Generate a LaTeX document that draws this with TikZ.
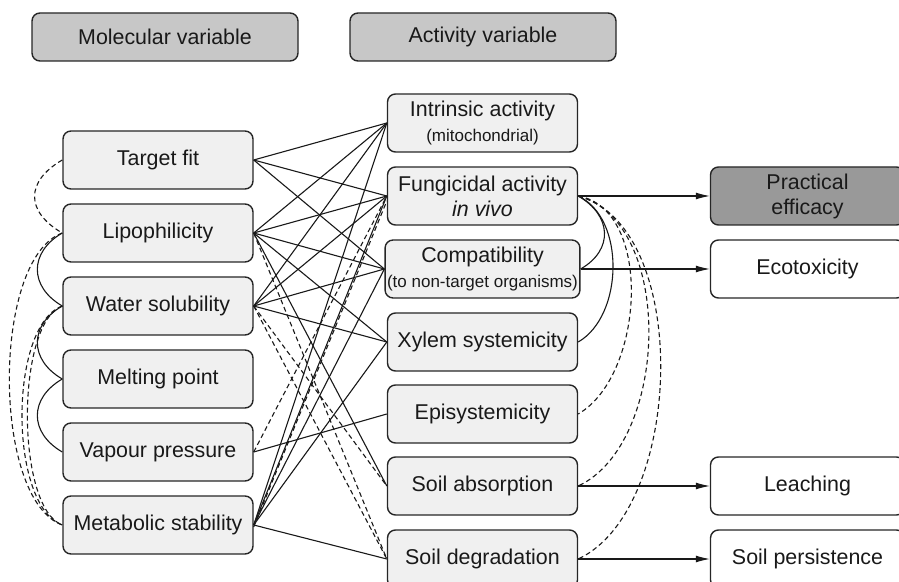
\documentclass[tikz,border=0pt]{standalone}
\usepackage{fontspec}
\setmainfont{Liberation Sans}
\usetikzlibrary{arrows.meta}

\tikzset{
  varbox/.style={draw=black!85, line width=0.7pt, rounded corners=4pt, fill=black!6,
    minimum width=95pt, minimum height=29pt, align=center, inner sep=1pt,
    text=black!90, font=\fontsize{10.7}{12.5}\selectfont},
  headbox/.style={varbox, fill=black!22, minimum width=133pt, minimum height=24pt},
  outbox/.style={varbox, fill=white, minimum width=97pt},
  link/.style={line width=0.55pt, draw=black!90},
  dlink/.style={link, dash pattern=on 2.4pt off 1.6pt},
  effect/.style={link, -{Latex[length=7pt,width=3.5pt]}},
}
\newcommand\subtxt[1]{{\fontsize{8.5}{10}\selectfont #1}}

\begin{document}
\begin{tikzpicture}[x=0.5pt,y=-0.5pt]
\useasboundingbox (0,0) rectangle (899,582);
\clip (0,0) rectangle (899,582);

% headings
\node[headbox] (molvar) at (165,37) {Molecular variable};
\node[headbox] (actvar) at (483,37) {Activity variable};

% molecular variables
\node[varbox] (fit)    at (158,160) {Target fit};
\node[varbox] (lipo)   at (158,233) {Lipophilicity};
\node[varbox] (solub)  at (158,306) {Water solubility};
\node[varbox] (melt)   at (158,379) {Melting point};
\node[varbox] (vapour) at (158,452) {Vapour pressure};
\node[varbox] (metab)  at (158,525) {Metabolic stability};

% activity variables
\node[varbox] (intr)   at (482.5,123) {Intrinsic activity\\\subtxt{(mitochondrial)}};
\node[varbox] (fung)   at (482.5,196) {Fungicidal activity\\\textit{in vivo}};
\node[varbox] (compat) at (482.5,269) {Compatibility\\\subtxt{(to non-target organisms)}};
\node[varbox] (xylem)  at (482.5,342) {Xylem systemicity};
\node[varbox] (episys) at (482.5,414) {Episystemicity};
\node[varbox] (sabs)   at (482.5,486) {Soil absorption};
\node[varbox] (sdeg)   at (482.5,559) {Soil degradation};

% outcomes
\node[outbox,fill=black!40] (effic) at (807.5,196) {Practical\\efficacy};
\node[outbox] (ecotox)  at (807.5,269) {Ecotoxicity};
\node[outbox] (leach)   at (807.5,486) {Leaching};
\node[outbox] (persist) at (807.5,559) {Soil persistence};

% molecular -> activity
\foreach \a/\b in {fit/intr,fit/fung,fit/compat,
                   lipo/intr,lipo/fung,lipo/compat,lipo/xylem,lipo/sabs,
                   solub/intr,solub/fung,solub/compat,solub/xylem,
                   vapour/episys,
                   metab/intr,metab/fung,metab/compat,metab/xylem,metab/sdeg}
  \draw[link] (\a.east) -- (\b.west);
\foreach \a/\b in {lipo/sdeg,solub/sabs,solub/sdeg,vapour/fung}
  \draw[dlink] (\a.east) -- (\b.west);
\draw[dlink] ([yshift=-1pt]metab.east) -- ([yshift=-2.5pt]fung.west);

% couplings among the molecular variables
\draw[dlink] (fit.west) to[out=210,in=150,looseness=1.5] (lipo.west);
\draw[link] (lipo.west) to[out=210,in=150,looseness=1.35] (solub.west);
\draw[link] (solub.west) to[out=210,in=150,looseness=1.35] (melt.west);
\draw[link] (melt.west) to[out=210,in=150,looseness=1.35] (vapour.west);
\draw[dlink] (lipo.west) to[out=200,in=160,looseness=0.66] (metab.west);
\draw[dlink] (solub.west) to[out=200,in=160,looseness=0.67] (metab.west);
\draw[dlink] (solub.west) to[out=200,in=160,looseness=0.58] (metab.west);

% couplings among the activity variables
\draw[link] (fung.east) to[out=-30,in=30,looseness=1.35] (compat.east);
\draw[link] (fung.east) to[out=-25,in=30,looseness=0.92] (xylem.east);
\draw[dlink] (fung.east) to[out=-10,in=30,looseness=0.9] (episys.east);
\draw[dlink] (fung.east) to[out=-15,in=25,looseness=0.89] (sabs.east);
\draw[dlink] (fung.east) to[out=-15,in=25,looseness=0.83] (sdeg.east);

% effects
\draw[effect] (fung.east) -- (effic.west);
\draw[effect] (compat.east) -- (ecotox.west);
\draw[effect] (sabs.east) -- (leach.west);
\draw[effect] (sdeg.east) -- (persist.west);
\end{tikzpicture}
\end{document}
